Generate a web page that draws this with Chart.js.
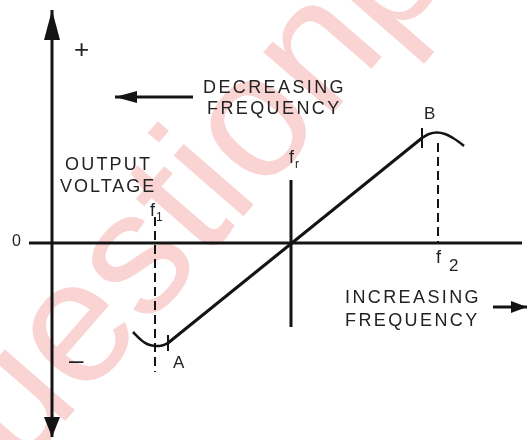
<!DOCTYPE html>
<html>
<head>
<meta charset="utf-8">
<script src="https://cdn.jsdelivr.net/npm/chart.js@4/dist/chart.umd.min.js"></script>
<style>
  body { margin: 0; background: #fff; }
  canvas { display: block; }
</style>
</head>
<body>
<canvas id="grafico" width="528" height="440"></canvas>
<script>
// frequency (x) relative to fr, output voltage (y)
const hookLeftX = [-15.8, -15.1, -14.4, -13.6, -12.9, -12.3];
const hookLeftY = [-8.9, -9.6, -10.1, -10.3, -10.25, -10.0];
const slopeX = [-12.3, 13.1];
const slopeY = [-10.0, 10.5];
const hookRightX = [13.1, 13.8, 14.6, 15.4, 16.2, 16.8, 17.3];
const hookRightY = [10.5, 10.9, 11.05, 10.9, 10.5, 10.1, 9.7];

// axes and markers
const vAxisX = [-23.9, -23.9];
const vAxisY = [23.3, -19.4];
const hAxisX = [-26.2, 23.1];
const hAxisY = [0, 0];
const frX = [0, 0];
const frY = [6.3, -8.4];
const f1X = [-13.6, -13.6];
const f1Y = [2.6, -12.9];
const f2X = [14.7, 14.7];
const f2Y = [10.0, 0];
const tickAX = [-12.3, -12.3];
const tickAY = [-9.2, -10.8];
const tickBX = [13.1, 13.1];
const tickBY = [11.5, 9.5];
const decArrowX = [-9.8, -17.6];
const decArrowY = [14.6, 14.6];
const incArrowX = [20.2, 23.6];
const incArrowY = [-6.4, -6.4];

const pts = (xs, ys) => xs.map((x, i) => ({ x: x, y: ys[i] }));

const INK = '#141414';

function serie(xs, ys, extra) {
    return Object.assign({
        data: pts(xs, ys),
        showLine: true,
        borderColor: INK,
        borderWidth: 3,
        pointRadius: 0,
        tension: 0,
        clip: false
    }, extra || {});
}

// textos del diagrama
const etiquetas = [
    { t: '+', x: -21.7, y: 19.2, size: 26 },
    { t: '\u2013', x: -22.2, y: -11.9, size: 26 },
    { t: '0', x: -27.9, y: 0.1, size: 16 },
    { t: 'DECREASING', x: -8.8, y: 15.5, size: 18, sp: 2.4 },
    { t: 'FREQUENCY', x: -8.4, y: 13.4, size: 18, sp: 2.4 },
    { t: 'OUTPUT', x: -22.6, y: 7.8, size: 18, sp: 2.2 },
    { t: 'VOLTAGE', x: -23.1, y: 5.6, size: 18, sp: 2.0 },
    { t: 'INCREASING', x: 5.4, y: -5.5, size: 18, sp: 2.4 },
    { t: 'FREQUENCY', x: 5.4, y: -7.8, size: 18, sp: 2.4 },
    { t: 'A', x: -11.8, y: -12.0, size: 17 },
    { t: 'B', x: 13.3, y: 12.9, size: 17 }
];
const subEtiquetas = [
    { t: 'f', s: '1', x: -14.1, y: 3.2, gap: 0.6, dy: -0.7 },
    { t: 'f', s: 'r', x: -0.2, y: 8.5, gap: 0.6, dy: -0.7 },
    { t: 'f', s: '2', x: 14.5, y: -1.5, gap: 1.3, dy: -0.8 }
];

const flechas = [
    { x: vAxisX, y: vAxisY, end: 0, len: 30, half: 8 },
    { x: vAxisX, y: vAxisY, end: 1, len: 20, half: 8 },
    { x: decArrowX, y: decArrowY, end: 1, len: 22, half: 6 },
    { x: incArrowX, y: incArrowY, end: 1, len: 16, half: 6 }
];

const marcaAgua = {
    id: 'marcaAgua',
    beforeDatasetsDraw(chart) {
        const c = chart.ctx;
        c.save();
        c.translate(-45, 548);
        c.rotate(-49 * Math.PI / 180);
        c.font = '175px "Liberation Sans", Arial, sans-serif';
        c.fillStyle = 'rgba(238, 110, 110, 0.3)';
        c.textBaseline = 'alphabetic';
        c.fillText('questionpaper', 0, 0);
        c.restore();
    }
};

const dibujos = {
    id: 'dibujos',
    afterDatasetsDraw(chart) {
        const c = chart.ctx;
        const sx = chart.scales.x, sy = chart.scales.y;
        c.save();
        c.fillStyle = INK;
        flechas.forEach(f => {
            const tipI = f.end, baseI = f.end === 0 ? 1 : 0;
            const tx = sx.getPixelForValue(f.x[tipI]), ty = sy.getPixelForValue(f.y[tipI]);
            const bx = sx.getPixelForValue(f.x[baseI]), by = sy.getPixelForValue(f.y[baseI]);
            const ang = Math.atan2(ty - by, tx - bx);
            c.save();
            c.translate(tx, ty);
            c.rotate(ang);
            c.beginPath();
            c.moveTo(0, 0);
            c.lineTo(-f.len, -f.half);
            c.lineTo(-f.len, f.half);
            c.closePath();
            c.fill();
            c.restore();
        });
        c.textBaseline = 'middle';
        c.textAlign = 'left';
        etiquetas.forEach(e => {
            c.font = e.size + 'px "Liberation Sans", Arial, sans-serif';
            c.letterSpacing = (e.sp || 0) + 'px';
            c.fillStyle = '#222';
            c.fillText(e.t, sx.getPixelForValue(e.x), sy.getPixelForValue(e.y));
        });
        c.letterSpacing = '0px';
        subEtiquetas.forEach(e => {
            const px = sx.getPixelForValue(e.x), py = sy.getPixelForValue(e.y);
            c.font = '18px "Liberation Sans", Arial, sans-serif';
            c.fillText(e.t, px, py);
            c.font = (e.s === '2' ? 17 : 12) + 'px "Liberation Sans", Arial, sans-serif';
            c.fillText(e.s, px + e.gap * 10, py - e.dy * 10);
        });
        c.restore();
    }
};

new Chart(document.getElementById('grafico').getContext('2d'), {
    type: 'scatter',
    data: {
        datasets: [
            serie(vAxisX, vAxisY, { borderWidth: 3 }),
            serie(hAxisX, hAxisY, { borderWidth: 3 }),
            serie(frX, frY, { borderWidth: 3 }),
            serie(f1X, f1Y, { borderWidth: 2, borderDash: [9, 5] }),
            serie(f2X, f2Y, { borderWidth: 2, borderDash: [9, 5] }),
            serie(tickAX, tickAY, { borderWidth: 2 }),
            serie(tickBX, tickBY, { borderWidth: 2 }),
            serie(decArrowX, decArrowY, { borderWidth: 3 }),
            serie(incArrowX, incArrowY, { borderWidth: 3 }),
            serie(hookLeftX, hookLeftY, { tension: 0.4, borderWidth: 2.5 }),
            serie(slopeX, slopeY, { borderWidth: 3 }),
            serie(hookRightX, hookRightY, { tension: 0.4, borderWidth: 2.5 })
        ]
    },
    options: {
        responsive: false,
        animation: false,
        layout: { padding: 0 },
        plugins: {
            legend: { display: false },
            tooltip: { enabled: false }
        },
        scales: {
            x: { type: 'linear', min: -29.1, max: 23.7, display: false },
            y: { type: 'linear', min: -19.7, max: 24.3, display: false }
        }
    },
    plugins: [marcaAgua, dibujos]
});
</script>
</body>
</html>
